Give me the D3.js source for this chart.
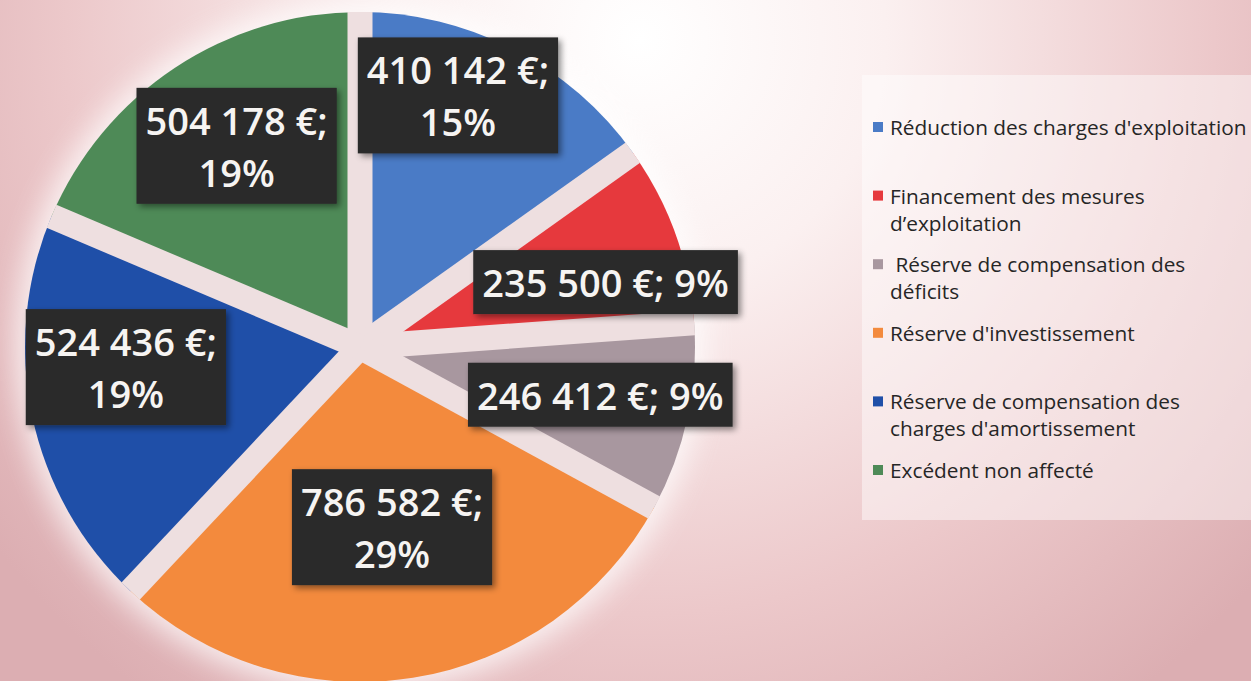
<!DOCTYPE html>
<html>
<head>
<meta charset="utf-8">
<script src="https://cdn.jsdelivr.net/npm/d3@7"></script>
<style>
  html, body { margin: 0; padding: 0; background: #fff; }
  svg { display: block; }
</style>
</head>
<body>
<svg id="chart"></svg>
<script>
// data
const categories = [
  "Réduction des charges d'exploitation",
  "Financement des mesures d’exploitation",
  "Réserve de compensation des déficits",
  "Réserve d'investissement",
  "Réserve de compensation des charges d'amortissement",
  "Excédent non affecté"
];
const amounts = [410142, 235500, 246412, 786582, 524436, 504178];
const colors = ["#4a7bc6", "#e6393d", "#a8979f", "#f38a3d", "#1f4fa8", "#4e8a57"];
// how the legend wraps each name
const legendLines = [
  ["Réduction des charges d'exploitation"],
  ["Financement des mesures", "d’exploitation"],
  [" Réserve de compensation des", "déficits"],
  ["Réserve d'investissement"],
  ["Réserve de compensation des", "charges d'amortissement"],
  ["Excédent non affecté"]
];

const width = 1251, height = 681;
const cx = 360, cy = 347, radius = 335;

// label placement (radius from centre, turn from slice middle in degrees, wrapped?)
const labelLayout = [
  { r: 270, turn: -6, wrap: true },
  { r: 254, turn: 5, wrap: false },
  { r: 245, turn: -1, wrap: false },
  { r: 183, turn: -1, wrap: true },
  { r: 235, turn: 7, wrap: true },
  { r: 236, turn: 2, wrap: true }
];

const svg = d3.select("#chart")
  .attr("width", width)
  .attr("height", height)
  .style("font-family", "'Open Sans', sans-serif");

const defs = svg.append("defs");

// background gradient
const bg = defs.append("radialGradient")
  .attr("id", "bg")
  .attr("gradientUnits", "userSpaceOnUse")
  .attr("cx", 640).attr("cy", 40).attr("r", 820);
bg.append("stop").attr("offset", "0").attr("stop-color", "#ffffff");
bg.append("stop").attr("offset", "0.3").attr("stop-color", "#fbf0f0");
bg.append("stop").attr("offset", "0.7").attr("stop-color", "#ecc8ca");
bg.append("stop").attr("offset", "1").attr("stop-color", "#dcaeb2");

const glow = defs.append("filter").attr("id", "glow")
  .attr("x", "-20%").attr("y", "-20%").attr("width", "140%").attr("height", "140%");
glow.append("feGaussianBlur").attr("stdDeviation", 14);

const shadow = defs.append("filter").attr("id", "shadow")
  .attr("x", "-10%").attr("y", "-10%").attr("width", "130%").attr("height", "140%");
shadow.append("feDropShadow")
  .attr("dx", 3).attr("dy", 3).attr("stdDeviation", 3)
  .attr("flood-color", "#000").attr("flood-opacity", 0.45);

svg.append("rect")
  .attr("width", width).attr("height", height)
  .attr("fill", "url(#bg)");

// lighter panel behind legend
svg.append("rect")
  .attr("x", 862).attr("y", 75)
  .attr("width", width - 862).attr("height", 445)
  .attr("fill", "#ffffff").attr("opacity", 0.45);

// white halo round the pie
svg.append("circle")
  .attr("cx", cx).attr("cy", cy).attr("r", radius + 10)
  .attr("fill", "#ffffff").attr("opacity", 0.75)
  .attr("filter", "url(#glow)");

const g = svg.append("g")
  .attr("transform", `translate(${cx}, ${cy})`);

const pie = d3.pie().sort(null).value(d => d);
const arcs = pie(amounts);
const total = d3.sum(amounts);

const arc = d3.arc().innerRadius(0).outerRadius(radius);

g.selectAll("path.slice")
  .data(arcs)
  .enter()
  .append("path")
  .attr("class", "slice")
  .attr("d", arc)
  .attr("fill", (d, i) => colors[i]);

// gaps between slices
g.selectAll("line.gap")
  .data(arcs)
  .enter()
  .append("line")
  .attr("class", "gap")
  .attr("x1", 0).attr("y1", 0)
  .attr("x2", d => radius * Math.sin(d.startAngle))
  .attr("y2", d => -radius * Math.cos(d.startAngle))
  .attr("stroke", "#eedfe0")
  .attr("stroke-width", 25);

// labels
const fr = d3.formatLocale({ decimal: ",", thousands: " ", grouping: [3], currency: ["", " €"] });
const fmtNum = fr.format(",d");
const fmtPct = d3.format(".0%");

const lineH = 52;

arcs.forEach((d, i) => {
  const lay = labelLayout[i];
  const a = (d.startAngle + d.endAngle) / 2 + lay.turn * Math.PI / 180;
  const x = lay.r * Math.sin(a), y = -lay.r * Math.cos(a);
  const first = fmtNum(amounts[i]) + " €;";
  const pct = fmtPct(amounts[i] / total);
  const lines = lay.wrap ? [first, pct] : [first + " " + pct];

  const lg = g.append("g").attr("transform", `translate(${x}, ${y})`);
  const box = lg.append("rect")
    .attr("fill", "#2b2b2b")
    .attr("filter", "url(#shadow)");
  const tg = lg.append("g");
  tg.selectAll("text")
    .data(lines)
    .enter()
    .append("text")
    .attr("x", 0)
    .attr("y", (t, j) => (j - (lines.length - 1) / 2) * lineH)
    .attr("text-anchor", "middle")
    .attr("dominant-baseline", "central")
    .attr("fill", "#f6f4f2")
    .style("font-size", "38px")
    .style("font-weight", 600)
    .text(t => t);

  const bb = tg.node().getBBox();
  const w = bb.width + 18;
  const h = lines.length * lineH + 12;
  box.attr("x", -w / 2).attr("y", -h / 2).attr("width", w).attr("height", h);
});

// legend
const legendY = d3.scalePoint()
  .domain(categories)
  .range([127, 470]);

const legend = svg.append("g").attr("class", "legend");

const items = legend.selectAll("g.item")
  .data(categories)
  .enter()
  .append("g")
  .attr("class", "item")
  .attr("transform", d => `translate(873, ${legendY(d)})`);

items.append("rect")
  .attr("x", 0).attr("y", -5)
  .attr("width", 10).attr("height", 10)
  .attr("fill", (d, i) => colors[i]);

items.each(function (d, i) {
  d3.select(this).selectAll("text")
    .data(legendLines[i])
    .enter()
    .append("text")
    .attr("x", 17)
    .attr("y", (t, j) => j * 27)
    .attr("dominant-baseline", "central")
    .attr("fill", "#262626")
    .style("font-size", "20.8px")
    .style("white-space", "pre")
    .text(t => t);
});
</script>
</body>
</html>
